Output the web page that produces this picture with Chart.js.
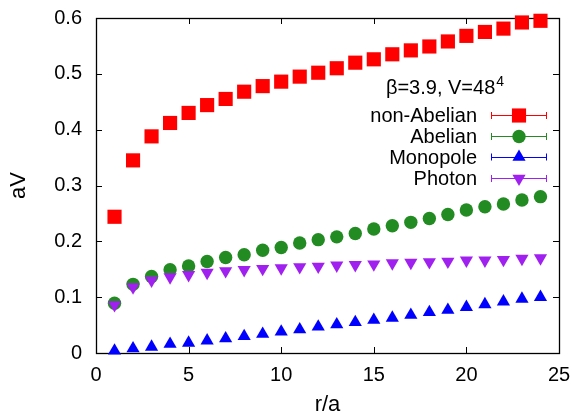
<!DOCTYPE html>
<html>
<head>
<meta charset="utf-8">
<title>aV vs r/a</title>
<script src="https://cdn.jsdelivr.net/npm/chart.js@4.4.1/dist/chart.umd.min.js"></script>
<style>
    html, body { margin: 0; padding: 0; background: #fff; }
    #wrap { width: 584px; height: 418px; }
</style>
</head>
<body>
<div id="wrap"><canvas id="potentialChart" width="584" height="418"></canvas></div>
<script>
// Distances r/a (x axis)
const rValues = [1, 2, 3, 4, 5, 6, 7, 8, 9, 10, 11, 12, 13, 14, 15, 16, 17, 18, 19, 20, 21, 22, 23, 24];

// Static potentials aV
const nonAbelian = [0.244, 0.345, 0.388, 0.412, 0.430, 0.444, 0.455, 0.468, 0.478, 0.486, 0.495, 0.502,
                    0.510, 0.520, 0.526, 0.535, 0.542, 0.549, 0.558, 0.568, 0.575, 0.581, 0.592, 0.595];
const abelian    = [0.089, 0.123, 0.137, 0.149, 0.156, 0.164, 0.171, 0.176, 0.184, 0.189, 0.197, 0.203,
                    0.208, 0.214, 0.222, 0.228, 0.234, 0.241, 0.248, 0.256, 0.262, 0.267, 0.274, 0.280];
const monopole   = [0.004, 0.008, 0.011, 0.016, 0.018, 0.022, 0.026, 0.030, 0.034, 0.038, 0.042, 0.047,
                    0.051, 0.055, 0.059, 0.063, 0.068, 0.073, 0.077, 0.082, 0.087, 0.092, 0.097, 0.100];
const photon     = [0.086, 0.118, 0.130, 0.136, 0.140, 0.144, 0.147, 0.149, 0.151, 0.152, 0.154, 0.155,
                    0.157, 0.158, 0.159, 0.161, 0.162, 0.163, 0.164, 0.166, 0.166, 0.167, 0.169, 0.170];

const seriesLabels = ["non-Abelian", "Abelian", "Monopole", "Photon"];
const xTicks = [0, 5, 10, 15, 20, 25];
const yTicks = [0, 0.1, 0.2, 0.3, 0.4, 0.5, 0.6];
const legendTitle = "β=3.9, V=48";
const legendTitleSup = "4";

document.addEventListener("DOMContentLoaded", function() {
    const fontFamily = "'Liberation Sans', Arial, Helvetica, sans-serif";

    function toPoints(values) {
        return rValues.map((r, i) => ({ x: r, y: values[i] }));
    }

    // Frame with gnuplot-like inner tick marks on all four sides
    const frameTicks = {
        id: "frameTicks",
        beforeDatasetsDraw(chart) {
            const { ctx, chartArea: a, scales } = chart;
            const len = 6;
            ctx.save();
            ctx.strokeStyle = "#000";
            ctx.lineWidth = 1;
            ctx.beginPath();
            xTicks.forEach(v => {
                const px = Math.round(scales.x.getPixelForValue(v)) + 0.5;
                ctx.moveTo(px, a.bottom); ctx.lineTo(px, a.bottom - len);
                ctx.moveTo(px, a.top); ctx.lineTo(px, a.top + len);
            });
            yTicks.forEach(v => {
                const py = Math.round(scales.y.getPixelForValue(v)) + 0.5;
                ctx.moveTo(a.left, py); ctx.lineTo(a.left + len, py);
                ctx.moveTo(a.right, py); ctx.lineTo(a.right - len, py);
            });
            ctx.stroke();
            ctx.lineWidth = 1.3;
            ctx.strokeRect(Math.round(a.left) + 0.5, Math.round(a.top) + 0.5,
                           Math.round(a.right - a.left), Math.round(a.bottom - a.top));
            ctx.restore();
        }
    };

    // Legend in gnuplot style: label on the left, sample with error-bar caps on the right
    const sampleLegend = {
        id: "sampleLegend",
        afterDatasetsDraw(chart) {
            const { ctx, chartArea: a } = chart;
            ctx.save();
            ctx.fillStyle = "#000";

            // Title with superscript
            ctx.font = "20px " + fontFamily;
            const mainW = ctx.measureText(legendTitle).width;
            ctx.font = "14px " + fontFamily;
            const supW = ctx.measureText(legendTitleSup).width;
            const titleX = a.right - 114 - (mainW + supW + 1) / 2;
            ctx.textAlign = "left";
            ctx.textBaseline = "alphabetic";
            ctx.font = "20px " + fontFamily;
            ctx.fillText(legendTitle, titleX, a.top + 76);
            ctx.font = "14px " + fontFamily;
            ctx.fillText(legendTitleSup, titleX + mainW + 1, a.top + 68);

            const rowOffsets = [97, 118, 138.5, 160];
            chart.data.datasets.forEach((ds, i) => {
                const y = a.top + rowOffsets[i];
                ctx.font = "20px " + fontFamily;
                ctx.textAlign = "right";
                ctx.fillStyle = "#000";
                ctx.fillText(ds.label, a.right - 82, y + 7);

                const x0 = a.right - 68, x1 = a.right - 12;
                ctx.strokeStyle = ds.backgroundColor;
                ctx.lineWidth = 1;
                ctx.beginPath();
                ctx.moveTo(x0, Math.round(y) + 0.5); ctx.lineTo(x1, Math.round(y) + 0.5);
                ctx.moveTo(x0 + 0.5, y - 3); ctx.lineTo(x0 + 0.5, y + 4);
                ctx.moveTo(x1 - 0.5, y - 3); ctx.lineTo(x1 - 0.5, y + 4);
                ctx.stroke();

                ctx.fillStyle = ds.backgroundColor;
                Chart.helpers.drawPoint(ctx, {
                    pointStyle: ds.pointStyle,
                    radius: ds.pointRadius,
                    rotation: ds.pointRotation || 0,
                    borderWidth: 0
                }, a.right - 40, y + 0.5);
            });
            ctx.restore();
        }
    };

    const ctx = document.getElementById("potentialChart").getContext("2d");
    new Chart(ctx, {
        type: "scatter",
        data: {
            datasets: [
                { label: seriesLabels[0], data: toPoints(nonAbelian), backgroundColor: "#ff0000",
                  pointStyle: "rect", pointRadius: 10, order: 3 },
                { label: seriesLabels[1], data: toPoints(abelian), backgroundColor: "#228b22",
                  pointStyle: "circle", pointRadius: 6.7, order: 2 },
                { label: seriesLabels[2], data: toPoints(monopole), backgroundColor: "#0000ff",
                  pointStyle: "triangle", pointRadius: 7.6, order: 1 },
                { label: seriesLabels[3], data: toPoints(photon), backgroundColor: "#a020f0",
                  pointStyle: "triangle", pointRotation: 180, pointRadius: 7.6, order: 0 }
            ].map(ds => Object.assign(ds, {
                borderWidth: 0,
                pointBorderWidth: 0,
                pointHoverRadius: ds.pointRadius,
                showLine: false,
                clip: false
            }))
        },
        options: {
            responsive: false,
            devicePixelRatio: 1,
            animation: false,
            events: [],
            layout: { autoPadding: false, padding: { left: 0, top: 18, right: 25, bottom: 0 } },
            plugins: {
                legend: { display: false },
                tooltip: { enabled: false }
            },
            scales: {
                x: {
                    type: "linear",
                    min: 0,
                    max: 25,
                    afterBuildTicks: scale => { scale.ticks = xTicks.map(v => ({ value: v })); },
                    afterFit: scale => { scale.height = 65; },
                    grid: { display: false, drawTicks: false },
                    border: { display: false },
                    ticks: { color: "#000", padding: 10, maxRotation: 0,
                             font: { family: fontFamily, size: 20 } },
                    title: { display: true, text: "r/a", color: "#000", padding: { top: 0, bottom: 0 },
                             font: { family: fontFamily, size: 22 } }
                },
                y: {
                    type: "linear",
                    min: 0,
                    max: 0.6,
                    afterBuildTicks: scale => { scale.ticks = yTicks.map(v => ({ value: v })); },
                    // tick padding would otherwise be added to the top/bottom margin as well
                    afterFit: scale => {
                        scale.width = 96;
                        scale.paddingTop = 10;
                        scale.paddingBottom = 10;
                    },
                    grid: { display: false, drawTicks: false },
                    border: { display: false },
                    ticks: { color: "#000", padding: 14,
                             callback: v => v === 0 ? "0" : v.toFixed(1),
                             font: { family: fontFamily, size: 20 } },
                    title: { display: true, text: "aV", color: "#000", padding: { top: 6, bottom: 0 },
                             font: { family: fontFamily, size: 22 } }
                }
            }
        },
        plugins: [frameTicks, sampleLegend]
    });
});
</script>
</body>
</html>
